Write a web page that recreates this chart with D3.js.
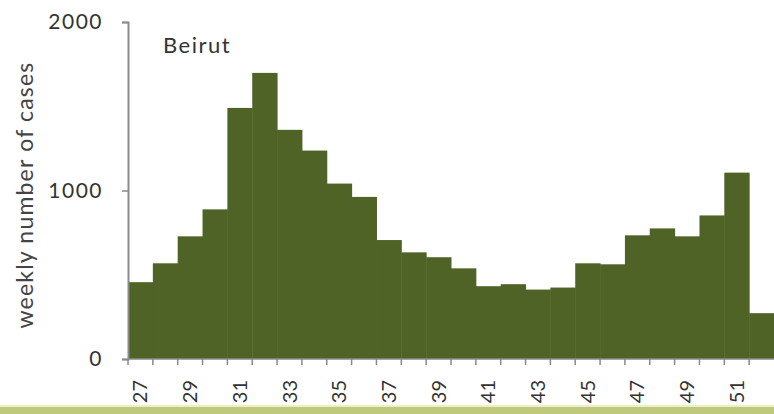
<!DOCTYPE html>
<html>
<head>
<meta charset="utf-8">
<script src="https://cdn.jsdelivr.net/npm/d3@7"></script>
<style>
  body { margin: 0; background: #fff; }
  svg { display: block; font-family: Lato, "Open Sans", sans-serif; }
</style>
</head>
<body>
<svg width="774" height="414"></svg>
<script>
// weekly cases, Beirut, weeks 27-52
var weeks = d3.range(27, 53);
var cases = [456, 568, 728, 888, 1490, 1698, 1360, 1237, 1041, 962, 706,
             633, 604, 538, 432, 444, 412, 424, 568, 562, 734, 775, 728, 852, 1106, 272];
var yTicks = [0, 1000, 2000];
var title = 'Beirut';
var yLabel = 'weekly number of cases';

var svg = d3.select('svg');
var x = d3.scaleBand().domain(weeks).range([128, 774]).padding(0);
var y = d3.scaleLinear().domain([0, 2000]).range([359, 22]);

// bottom strip
svg.append('rect').attr('x', 0).attr('y', 405).attr('width', 774).attr('height', 3).attr('fill', '#eef0c4');
svg.append('rect').attr('x', 0).attr('y', 407).attr('width', 774).attr('height', 7).attr('fill', '#bfc97e');

svg.selectAll('.bar')
  .data(weeks)
  .enter()
  .append('rect')
  .attr('class', 'bar')
  .attr('x', d => x(d))
  .attr('y', (d, i) => y(cases[i]))
  .attr('width', x.bandwidth() + 0.5)
  .attr('height', (d, i) => y(0) - y(cases[i]))
  .attr('fill', '#4f6326');

// y axis
var yAxis = svg.append('g')
  .attr('transform', 'translate(128,0)')
  .call(d3.axisLeft(y).tickValues(yTicks).tickSize(6).tickPadding(19).tickFormat(d3.format('d')));
yAxis.select('.domain').attr('stroke', '#8a8a8a').attr('stroke-width', 2);
yAxis.selectAll('line').attr('stroke', '#8a8a8a').attr('stroke-width', 1.5);
yAxis.selectAll('text')
  .attr('font-size', 21).attr('letter-spacing', 1.5)
  .attr('fill', '#333').attr('font-family', 'Lato, sans-serif');

// x axis: ticks between bars, labels on odd weeks
var xg = svg.append('g').attr('transform', 'translate(0,359)');
xg.append('line').attr('x1', 128).attr('x2', 774).attr('stroke', '#8a8a8a').attr('stroke-width', 1.5);
xg.selectAll('.tk')
  .data(weeks)
  .enter()
  .append('line')
  .attr('x1', d => x(d)).attr('x2', d => x(d))
  .attr('y1', 0).attr('y2', 6)
  .attr('stroke', '#8a8a8a').attr('stroke-width', 1.5);
xg.selectAll('.lbl')
  .data(weeks.filter(d => d % 2 === 1))
  .enter()
  .append('text')
  .attr('transform', d => 'translate(' + (x(d) + x.bandwidth() / 2 + 7) + ',21) rotate(-90)')
  .attr('text-anchor', 'end')
  .attr('font-size', 20)
  .attr('fill', '#333')
  .text(d => d);

svg.append('text')
  .attr('transform', 'translate(33,195) rotate(-90)')
  .attr('text-anchor', 'middle')
  .attr('font-size', 23)
  .attr('letter-spacing', 1.2)
  .attr('fill', '#444')
  .text(yLabel);

svg.append('text')
  .attr('x', 163).attr('y', 53)
  .attr('font-size', 22)
  .attr('letter-spacing', 1.5)
  .attr('fill', '#333')
  .text(title);
</script>
</body>
</html>
